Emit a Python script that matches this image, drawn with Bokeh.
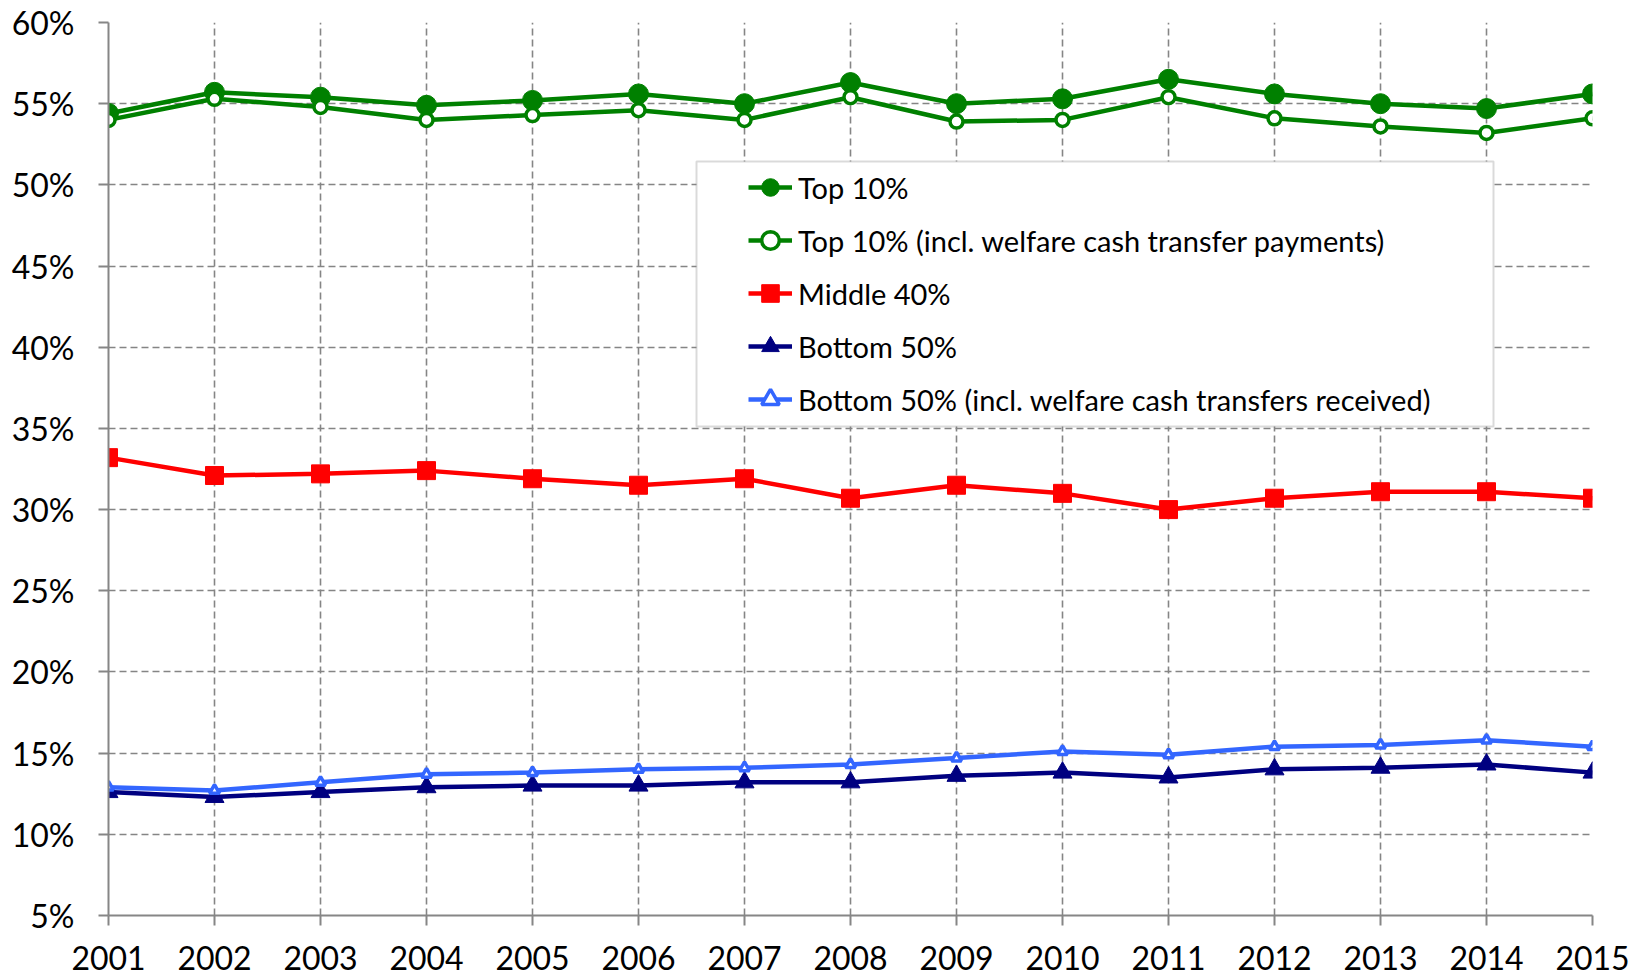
from bokeh.plotting import figure
from bokeh.models import (Range1d, FixedTicker, PrintfTickFormatter, BasicTickFormatter,
                          Legend, LegendItem, BoxAnnotation)
from bokeh.embed import file_html
from bokeh.resources import INLINE

# ---------------- data ----------------
years = [2001, 2002, 2003, 2004, 2005, 2006, 2007, 2008, 2009, 2010, 2011, 2012, 2013, 2014, 2015]
top10 = [54.4, 55.7, 55.4, 54.9, 55.2, 55.6, 55.0, 56.3, 55.0, 55.3, 56.5, 55.6, 55.0, 54.7, 55.6]
top10_incl = [54.0, 55.3, 54.8, 54.0, 54.3, 54.6, 54.0, 55.4, 53.9, 54.0, 55.4, 54.1, 53.6, 53.2, 54.1]
middle40 = [33.2, 32.1, 32.2, 32.4, 31.9, 31.5, 31.9, 30.7, 31.5, 31.0, 30.0, 30.7, 31.1, 31.1, 30.7]
bottom50 = [12.6, 12.3, 12.6, 12.9, 13.0, 13.0, 13.2, 13.2, 13.6, 13.8, 13.5, 14.0, 14.1, 14.3, 13.8]
bottom50_incl = [12.9, 12.7, 13.2, 13.7, 13.8, 14.0, 14.1, 14.3, 14.7, 15.1, 14.9, 15.4, 15.5, 15.8, 15.4]
y_ticks = [5, 10, 15, 20, 25, 30, 35, 40, 45, 50, 55, 60]

labels = ["Top 10%",
          "Top 10% (incl. welfare cash transfer payments)",
          "Middle 40%",
          "Bottom 50%",
          "Bottom 50% (incl. welfare cash transfers received)"]

# ---------------- layout constants ----------------
W, H = 1644, 976
ML, MR, MT, MB = 108, 52, 22, 61
FONT = "Lato"
GRID = "#858585"
AXIS = "#868686"
GREEN, RED, NAVY, LBLUE = "#008000", "#FF0000", "#000080", "#3366FF"

x0, x1 = years[0], years[-1]
y0, y1 = y_ticks[0], y_ticks[-1]

p = figure(width=W, height=H, x_range=Range1d(x0, x1), y_range=Range1d(y0, y1),
           output_backend="svg", toolbar_location=None,
           min_border_left=ML, min_border_right=MR, min_border_top=MT, min_border_bottom=MB)
p.outline_line_color = None
p.background_fill_color = "white"
p.border_fill_color = "white"

# axes
p.xaxis.ticker = FixedTicker(ticks=years)
p.xaxis.formatter = BasicTickFormatter(use_scientific=False)
p.yaxis.ticker = FixedTicker(ticks=y_ticks)
p.yaxis.formatter = PrintfTickFormatter(format="%d%%")
for ax in (p.xaxis, p.yaxis):
    ax.axis_line_color = AXIS
    ax.axis_line_width = 2
    ax.major_tick_line_color = AXIS
    ax.major_tick_line_width = 2
    ax.major_tick_in = 0
    ax.major_tick_out = 10
    ax.minor_tick_line_color = None
    ax.major_label_text_font = FONT
    ax.major_label_text_font_size = "32px"
    ax.major_label_text_color = "black"
p.xaxis.major_label_standoff = 20
p.yaxis.major_label_standoff = 24

# grid
p.xgrid.ticker = FixedTicker(ticks=years)
p.ygrid.ticker = FixedTicker(ticks=y_ticks)
for g in (p.xgrid, p.ygrid):
    g.grid_line_color = GRID
    g.grid_line_width = 1.6
    g.grid_line_dash = "7 4"

# series
series = [
    (top10, GREEN, dict(marker="circle", size=20, fill_color=GREEN, line_color=GREEN, line_width=1)),
    (top10_incl, GREEN, dict(marker="circle", size=13, fill_color="white", line_color=GREEN, line_width=3.5)),
    (middle40, RED, dict(marker="square", size=18, fill_color=RED, line_color=RED, line_width=1)),
    (bottom50, NAVY, dict(marker="triangle", size=19, fill_color=NAVY, line_color=NAVY, line_width=1)),
    (bottom50_incl, LBLUE, dict(marker="triangle", size=10, fill_color="white", line_color=LBLUE, line_width=3.5)),
]
items = []
for (vals, col, mk), lab in zip(series, labels):
    lr = p.line(years, vals, line_color=col, line_width=4.5)
    sr = p.scatter(years, vals, **mk)
    items.append(LegendItem(label=lab, renderers=[lr, sr]))

# legend frame (pixel geometry converted to data units)
fw = W - ML - MR
fh = H - MT - MB
px_x = fw / (x1 - x0)
px_y = fh / (y1 - y0)
box_l, box_r, box_t, box_b = 588, 1385, 139, 404   # px from frame top-left
box = BoxAnnotation(left=x0 + box_l / px_x, right=x0 + box_r / px_x,
                    top=y1 - box_t / px_y, bottom=y1 - box_b / px_y,
                    fill_color="white", fill_alpha=1.0,
                    line_color=AXIS, line_width=2)
p.add_layout(box)

legend = Legend(items=items, location=(640, 494), padding=0, margin=0, spacing=9,
                glyph_width=44, glyph_height=44, label_height=44, label_standoff=6,
                border_line_alpha=0, background_fill_alpha=0,
                label_text_font=FONT, label_text_font_size="29px", label_text_color="black")
p.add_layout(legend)

open("out.html", "w").write(file_html(p, INLINE))
